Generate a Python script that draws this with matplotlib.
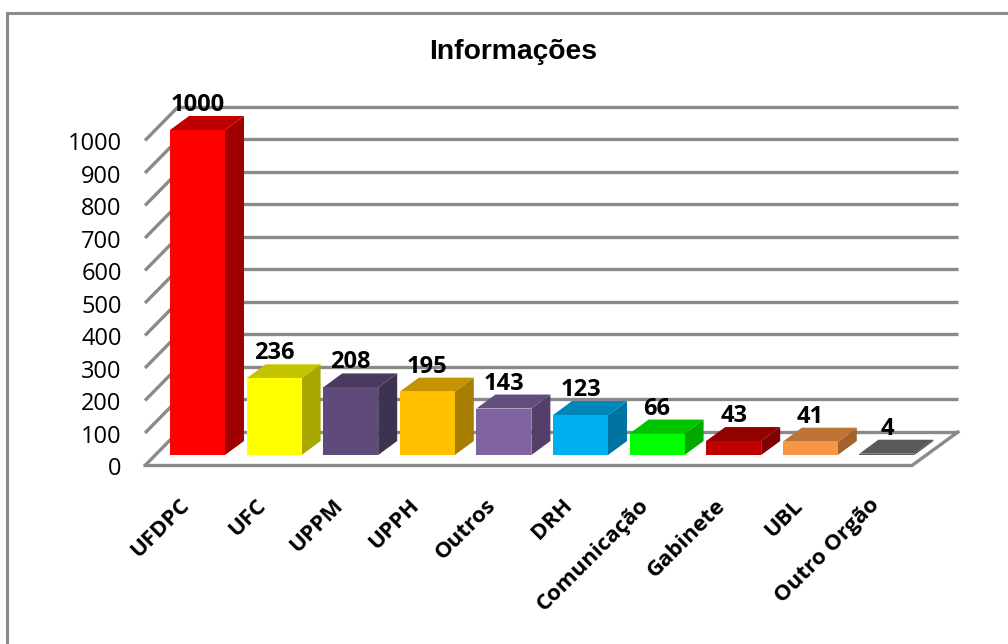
import matplotlib
matplotlib.use('Agg')
import matplotlib.pyplot as plt
from matplotlib.patches import Polygon, Rectangle
from matplotlib.lines import Line2D

categories = ['UFDPC', 'UFC', 'UPPM', 'UPPH', 'Outros', 'DRH', 'Comunicação', 'Gabinete', 'UBL', 'Outro Orgão']
values = [1000, 236, 208, 195, 143, 123, 66, 43, 41, 4]
y_ticks = [0, 100, 200, 300, 400, 500, 600, 700, 800, 900, 1000]

front_colors = ['#FF0000', '#FFFF00', '#604A7B', '#FFC000', '#8064A2', '#00B0F0', '#00FF00', '#C00000', '#F79646', '#595959']
top_colors = ['#C00000', '#C4C400', '#4A3A5E', '#C49300', '#624D7D', '#0087B9', '#00C400', '#930000', '#BE7336', '#595959']
side_colors = ['#A00000', '#A8A800', '#3F3150', '#A87E00', '#543F6B', '#0074A0', '#00A800', '#7E0000', '#A3622E', '#404040']

GRID = '#8A8A8A'
PX_X = 76.6    # pixels per category
PX_Y = 0.325   # pixels per value unit
BAR_W = 0.718
DEPTH_X = 0.248
DEPTH_Y = 43
# floor of the fake 3d box, in data units
FLOOR_Y = -32.3
BACK_Y = 70.8
LEFT_X = -0.685
BACK_LEFT_X = -0.255
RIGHT_X = 9.327
BACK_RIGHT_X = 9.928

plt.rcParams['font.family'] = ['Open Sans', 'DejaVu Sans']

fig = plt.figure(figsize=(10.08, 6.44), dpi=100)
ax = fig.add_axes([0, 0, 1, 1])
ax.set_xlim(-197.5 / PX_X, (1008 - 197.5) / PX_X)
ax.set_ylim((455 - 644) / PX_Y, 455 / PX_Y)
ax.axis('off')

# outer chart border, only top and left are inside the picture
fig.add_artist(Line2D([7 / 1008, 7 / 1008, 1], [0, 1 - 13 / 644, 1 - 13 / 644], color=GRID, lw=2.2,
                      solid_joinstyle='miter', transform=fig.transFigure))

# walls and floor
for t in y_ticks:
    y = FLOOR_Y + t
    ax.plot([LEFT_X, BACK_LEFT_X], [y, BACK_Y + t], color=GRID, lw=2.4, solid_capstyle='butt', zorder=1)
    ax.plot([BACK_LEFT_X, BACK_RIGHT_X], [BACK_Y + t, BACK_Y + t], color=GRID, lw=2.4, solid_capstyle='butt', zorder=1)
    ax.text(-0.99, y - 11, str(t), ha='right', va='center', fontsize=17, color='black')
ax.plot([LEFT_X, RIGHT_X, BACK_RIGHT_X], [FLOOR_Y, FLOOR_Y, BACK_Y], color=GRID, lw=2.4,
        solid_joinstyle='miter', zorder=1)

# bars
for i, v in enumerate(values):
    x0 = i - BAR_W / 2
    x1 = i + BAR_W / 2
    ax.add_patch(Polygon([(x1, 0), (x1 + DEPTH_X, DEPTH_Y), (x1 + DEPTH_X, v + DEPTH_Y), (x1, v)],
                         facecolor=side_colors[i], edgecolor='none', zorder=3))
    ax.add_patch(Polygon([(x0, v), (x1, v), (x1 + DEPTH_X, v + DEPTH_Y), (x0 + DEPTH_X, v + DEPTH_Y)],
                         facecolor=top_colors[i], edgecolor='none', zorder=3))
    ax.add_patch(Rectangle((x0, 0), BAR_W, v, facecolor=front_colors[i], edgecolor='none', zorder=3))
    ax.text(i, v + 77, str(v), ha='center', va='center', fontsize=17, fontweight='bold', color='black', zorder=5)
    ax.text(i - 0.24, -123, categories[i], rotation=45, rotation_mode='anchor', ha='right', va='top',
            fontsize=16, fontweight='bold', color='black')

fig.text(513 / 1008, 1 - 52 / 644, 'Informações', ha='center', va='center', fontsize=20.3,
         fontweight='bold', family=['Liberation Sans', 'DejaVu Sans'])

plt.savefig('out.png', dpi=100)
plt.close()
